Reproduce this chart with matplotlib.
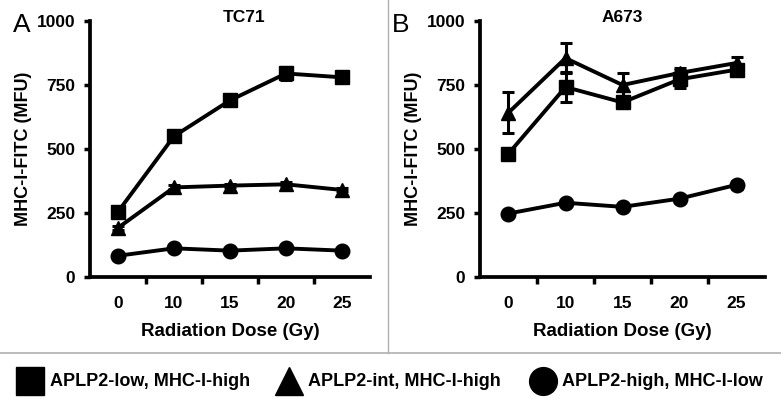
import numpy as np
import matplotlib.pyplot as plt
from matplotlib.lines import Line2D

plt.rcParams['font.family'] = ['Liberation Sans', 'DejaVu Sans']
plt.rcParams['font.weight'] = 'bold'

doses = ['0', '10', '15', '20', '25']
series_names = ['APLP2-low, MHC-I-high', 'APLP2-int, MHC-I-high', 'APLP2-high, MHC-I-low']
markers = ['s', '^', 'o']

# TC71
tc71_low = [255, 550, 690, 795, 780]
tc71_low_err = [15, 20, 12, 25, 10]
tc71_int = [192, 350, 357, 362, 340]
tc71_int_err = [8, 8, 6, 8, 6]
tc71_high = [83, 112, 103, 112, 103]
tc71_high_err = [6, 10, 6, 6, 5]

# A673
a673_low = [482, 742, 682, 772, 810]
a673_low_err = [22, 60, 20, 35, 20]
a673_int = [642, 855, 750, 797, 836]
a673_int_err = [80, 60, 45, 20, 25]
a673_high = [248, 290, 274, 306, 360]
a673_high_err = [10, 10, 10, 10, 15]

panels = [
    ('TC71', 'A', [tc71_low, tc71_int, tc71_high], [tc71_low_err, tc71_int_err, tc71_high_err]),
    ('A673', 'B', [a673_low, a673_int, a673_high], [a673_low_err, a673_int_err, a673_high_err]),
]

W, H = 781, 408
fig = plt.figure(figsize=(W / 100, H / 100), dpi=100)

axes_px = [(90, 370), (480, 765)]
title_px = [244, 622]
letter_px = [13, 392]
y_top, y_bot = 21, 277
x = np.arange(len(doses))

for (title, letter, vals, errs), (x0, x1), tx, lx in zip(panels, axes_px, title_px, letter_px):
    ax = fig.add_axes([x0 / W, (H - y_bot) / H, (x1 - x0) / W, (y_bot - y_top) / H])
    for v, e, m in zip(vals, errs, markers):
        ax.errorbar(x, v, yerr=e, color='black', marker=m, markersize=10.5,
                    linewidth=2.8, elinewidth=2.2, capsize=4, capthick=2.2, clip_on=False)
    ax.set_xlim(-0.5, len(doses) - 0.5)
    ax.set_ylim(0, 1000)
    ax.set_yticks([0, 250, 500, 750, 1000])
    ax.set_xticks(x)
    ax.set_xticklabels(doses)
    ax.set_xticks(x[:-1] + 0.5, minor=True)
    ax.tick_params(axis='x', which='major', length=0, pad=14, labelsize=12.5)
    ax.tick_params(axis='x', which='minor', length=5, width=2.5, direction='out')
    ax.tick_params(axis='y', length=4, width=2.5, direction='out', pad=6.5, labelsize=12.5)
    for s in ['top', 'right']:
        ax.spines[s].set_visible(False)
    for s in ['left', 'bottom']:
        ax.spines[s].set_linewidth(2.7)
    ax.set_ylabel('MHC-I-FITC (MFU)', fontsize=13, fontweight='bold', labelpad=3.5)
    ax.set_xlabel('Radiation Dose (Gy)', fontsize=13.5, fontweight='bold', labelpad=8)
    fig.text(tx / W, 1 - 18 / H, title, fontsize=12.5, fontweight='bold',
             ha='center', va='center')
    fig.text(lx / W, 1 - 25 / H, letter, fontsize=19, fontweight='normal',
             va='center', ha='left')

# separators
fig.add_artist(Line2D([0, 1], [1 - 353 / H, 1 - 353 / H], color='#b0b0b0', linewidth=1.2,
                      transform=fig.transFigure))
fig.add_artist(Line2D([388 / W, 388 / W], [1 - 353 / H, 1], color='#b0b0b0', linewidth=1,
                      transform=fig.transFigure))

# legend
legend_marker_px = [30.5, 288.5, 543]
legend_text_px = [50, 308, 562]
legend_y = 1 - 381 / H
for m, name, mx, tx in zip(markers, series_names, legend_marker_px, legend_text_px):
    fig.add_artist(Line2D([mx / W], [legend_y], color='black', marker=m, linestyle='none',
                          markersize=20, transform=fig.transFigure))
    fig.text(tx / W, legend_y, name, fontsize=13, fontweight='bold', ha='left', va='center')

fig.savefig('out.png', dpi=100)
